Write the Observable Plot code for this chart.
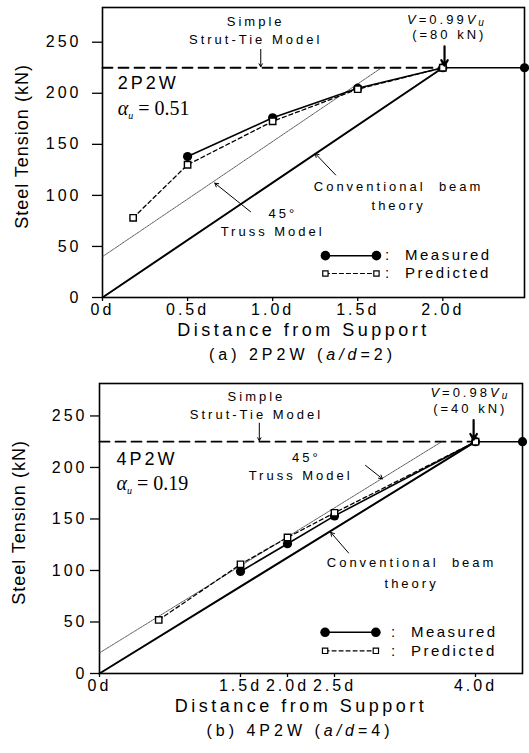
<!DOCTYPE html>
<html><head><meta charset="utf-8">
<script src="https://cdn.jsdelivr.net/npm/d3@7"></script>
<script src="https://cdn.jsdelivr.net/npm/@observablehq/plot@0.6"></script>
<style>
body{margin:0;background:#fff;}
svg{display:block;}
</style></head><body><div id="chart"></div>
<script>
// ---------- Panel (a) 2P2W ----------
const xTicksA = [0, 0.5, 1.0, 1.5, 2.0];
const xTickLabelsA = ["0d", "0.5d", "1.0d", "1.5d", "2.0d"];
const measuredXA = [0.5, 1.0, 1.5, 2.0, 2.48];
const measuredYA = [138, 176, 205, 225, 225];
const predictedXA = [0.18, 0.5, 1.0, 1.5, 2.0];
const predictedYA = [78, 130, 172.5, 204, 225];
const beamXA = [0, 2.0];
const beamYA = [0, 225];
const trussXA = [0, 1.64];
const trussYA = [40, 225];
const strutXA = [0, 2.0];
const strutYA = [225, 225];

// ---------- Panel (b) 4P2W ----------
const xTicksB = [0, 1.5, 2.0, 2.5, 4.0];
const xTickLabelsB = ["0d", "1.5d", "2.0d", "2.5d", "4.0d"];
const measuredXB = [1.5, 2.0, 2.5, 4.0, 4.5];
const measuredYB = [99, 126, 153, 225, 225];
const predictedXB = [0.63, 1.5, 2.0, 2.5, 4.0];
const predictedYB = [52, 106, 132, 156, 225];
const beamXB = [0, 4.0];
const beamYB = [0, 225];
const trussXB = [0, 3.64];
const trussYB = [20, 225];
const strutXB = [0, 4.0];
const strutYB = [225, 225];

const yTicks = [0, 50, 100, 150, 200, 250];

const pts = (xs, ys) => xs.map((x, i) => ({x, y: ys[i]}));
const FONT = "'Liberation Sans', Arial, sans-serif";
const SERIF = "'Liberation Serif', 'Times New Roman', serif";

function panel(o) {
  const measured = pts(o.mx, o.my);
  const predicted = pts(o.px, o.py);
  const labelMap = new Map(o.xt.map((t, i) => [t, o.xl[i]]));
  const a = o.ann;
  return Plot.plot({
    width: 529, height: o.height,
    marginTop: o.mt, marginBottom: o.mb, marginLeft: o.ml, marginRight: o.mr,
    style: {fontFamily: FONT, background: "white", overflow: "visible"},
    x: {domain: o.xd},
    y: {domain: o.yd},
    marks: [
      Plot.axisY({ticks: yTicks, tickSize: o.ytickSize, tickFormat: () => "", stroke: "black", strokeWidth: 1.3, label: null}),
      Plot.text(yTicks, {y: d => d, text: d => String(d), frameAnchor: "left", textAnchor: "end", dx: o.ylabDx, fontSize: 16, fill: "black"}),
      Plot.axisX({ticks: o.xt, tickFormat: d => labelMap.get(d), tickSize: 4, tickPadding: 2, fontSize: 16, label: null, strokeWidth: 1.3, fill: "black"}),
      Plot.frame({stroke: "black", strokeWidth: 1.6}),
      // model lines
      Plot.line(pts(o.sx, o.sy), {x: "x", y: "y", stroke: "black", strokeWidth: 1.8, strokeDasharray: "10,6"}),
      Plot.line(pts(o.tx, o.ty), {x: "x", y: "y", stroke: "#333", strokeWidth: 0.8, strokeDasharray: "2,1"}),
      Plot.line(pts(o.bx, o.by), {x: "x", y: "y", stroke: "black", strokeWidth: 2}),
      // measured / predicted
      Plot.line(measured, {x: "x", y: "y", stroke: "black", strokeWidth: 1.6}),
      Plot.line(predicted, {x: "x", y: "y", stroke: "black", strokeWidth: 1.3, strokeDasharray: "4,3"}),
      Plot.dot(measured, {x: "x", y: "y", r: 4.6, fill: "black", stroke: "none"}),
      Plot.dot(predicted, {x: "x", y: "y", r: 3.6, symbol: "square", fill: "white", stroke: "black", strokeWidth: 1.4}),
      // annotations
      Plot.text(["Simple"], {x: a.simpleX, y: a.simpleY1, fontSize: 13, fill: "black"}),
      Plot.text(["Strut-Tie Model"], {x: a.simpleX, y: a.simpleY2, fontSize: 13, fill: "black"}),
      Plot.arrow([0], {x1: a.strutArrowX, x2: a.strutArrowX, y1: 243, y2: 226, stroke: "black", strokeWidth: 1, headLength: 5}),
      Plot.text([o.vText], {x: a.vX1, y: 272, textAnchor: "start", fontSize: 13, fill: "black"}),
      Plot.text([o.vkN], {x: a.vX2, y: 257, textAnchor: "start", fontSize: 13, fill: "black"}),
      Plot.arrow([0], {x1: a.vArrowX, x2: a.vArrowX, y1: 246, y2: 227, stroke: "black", strokeWidth: 2.2, headLength: 7}),
      Plot.text([o.name], {x: a.nameX, y: a.nameY, textAnchor: "start", fontSize: 18, fill: "black"}),
      Plot.text([o.alpha], {x: a.nameX, y: a.alphaY, textAnchor: "start", fontSize: 20, fontFamily: SERIF, fill: "black"}),
      Plot.text(["Conventional  beam"], {x: a.convX, y: a.convY1, fontSize: 13, fill: "black"}),
      Plot.text(["theory"], {x: a.convX, y: a.convY2, fontSize: 13, fill: "black"}),
      Plot.arrow([0], {x1: a.convArrow[0], y1: a.convArrow[1], x2: a.convArrow[2], y2: a.convArrow[3], stroke: "black", strokeWidth: 1, headLength: 6}),
      Plot.text(["45°"], {x: a.degX, y: a.degY, fontSize: 13, fill: "black"}),
      Plot.text(["Truss Model"], {x: a.trussTX, y: a.trussTY, fontSize: 13, fill: "black"}),
      Plot.arrow([0], {x1: a.trussArrow[0], y1: a.trussArrow[1], x2: a.trussArrow[2], y2: a.trussArrow[3], stroke: "black", strokeWidth: 1, headLength: 6}),
      // legend
      Plot.line(pts(a.legX, [a.legY1, a.legY1]), {x: "x", y: "y", stroke: "black", strokeWidth: 1.5}),
      Plot.dot(pts(a.legX, [a.legY1, a.legY1]), {x: "x", y: "y", r: 4.8, fill: "black"}),
      Plot.line(pts(a.legX, [a.legY2, a.legY2]), {x: "x", y: "y", stroke: "black", strokeWidth: 1.2, strokeDasharray: "4,3"}),
      Plot.dot(pts(a.legX, [a.legY2, a.legY2]), {x: "x", y: "y", r: 3, symbol: "square", fill: "white", stroke: "black", strokeWidth: 1.2}),
      Plot.text([":  Measured"], {x: a.legTX, y: a.legY1, textAnchor: "start", fontSize: 15, fill: "black"}),
      Plot.text([":  Predicted"], {x: a.legTX, y: a.legY2, textAnchor: "start", fontSize: 15, fill: "black"}),
      // axis title and caption
      Plot.text(["Distance from Support"], {frameAnchor: "bottom", dx: -10, dy: 38, fontSize: 18, fill: "black"}),
      Plot.text([o.caption], {frameAnchor: "bottom", dx: -11, dy: 62, fontSize: 16, fill: "black"}),
      Plot.text(["Steel Tension (kN)"], {frameAnchor: "left", dx: -80, dy: -6, rotate: -90, textAnchor: "middle", fontSize: 18, fill: "black"})
    ]
  });
}

// letter spacing of the texts, as in the reference
const spacing = new Map([
  ["Distance from Support", "3.5px"],
  ["Steel Tension (kN)", "1px"],
  [":  Measured", "2.5px"], [":  Predicted", "2.5px"],
  ["2P2W", "3px"], ["4P2W", "3px"],
  ["(a) 2P2W (a/d=2)", "4px"], ["(b) 4P2W (a/d=4)", "4px"],
  ["αu = 0.51", "0px"], ["αu = 0.19", "0px"]
]);

function applySpacing(svg) {
  d3.select(svg).selectAll("text").each(function () {
    this.style.letterSpacing = spacing.get(this.textContent) ?? "3px";
  });
}

function rich(svg, plain, parts) {
  d3.select(svg).selectAll("text").filter(function () { return this.textContent === plain; }).each(function () {
    const t = d3.select(this);
    t.text(null);
    for (const p of parts) {
      const s = t.append("tspan").text(p.t);
      if (p.italic) s.attr("font-style", "italic");
      if (p.size) s.attr("font-size", p.size);
      if (p.shift) s.attr("baseline-shift", p.shift);
    }
  });
}

const svgA = panel({
  height: 375, mt: 7, mb: 78, ml: 102, mr: 5,
  xd: [0, 2.48], yd: [0, 284], ytickSize: 10, ylabDx: -21,
  xt: xTicksA, xl: xTickLabelsA,
  mx: measuredXA, my: measuredYA, px: predictedXA, py: predictedYA,
  bx: beamXA, by: beamYA, tx: trussXA, ty: trussYA, sx: strutXA, sy: strutYA,
  name: "2P2W", alpha: "αu = 0.51", vText: "V=0.99Vu", vkN: "(=80 kN)",
  caption: "(a) 2P2W (a/d=2)",
  ann: {simpleX: 0.9, simpleY1: 270, simpleY2: 252, strutArrowX: 0.93,
        vX1: 1.79, vX2: 1.82, vArrowX: 2.01, nameX: 0.09, nameY: 210, alphaY: 185,
        convX: 1.74, convY1: 108, convY2: 90, convArrow: [1.37, 120, 1.25, 141],
        degX: 1.06, degY: 82, trussTX: 1.0, trussTY: 64, trussArrow: [0.87, 84, 0.66, 112],
        legX: [1.31, 1.61], legY1: 41, legY2: 23.5, legTX: 1.66}
});

const svgB = panel({
  height: 378, mt: 8, mb: 80, ml: 99, mr: 7,
  xd: [0, 4.5], yd: [0, 281.5], ytickSize: 9, ylabDx: -12,
  xt: xTicksB, xl: xTickLabelsB,
  mx: measuredXB, my: measuredYB, px: predictedXB, py: predictedYB,
  bx: beamXB, by: beamYB, tx: trussXB, ty: trussYB, sx: strutXB, sy: strutYB,
  name: "4P2W", alpha: "αu = 0.19", vText: "V=0.98Vu", vkN: "(=40 kN)",
  caption: "(b) 4P2W (a/d=4)",
  ann: {simpleX: 1.67, simpleY1: 269, simpleY2: 251, strutArrowX: 1.70,
        vX1: 3.52, vX2: 3.55, vArrowX: 3.98, nameX: 0.18, nameY: 208, alphaY: 184,
        convX: 3.32, convY1: 107, convY2: 87, convArrow: [2.65, 117, 2.46, 137],
        degX: 2.2, degY: 209, trussTX: 2.14, trussTY: 192, trussArrow: [2.83, 202, 3.01, 189],
        legX: [2.40, 2.94], legY1: 40, legY2: 22, legTX: 3.10}
});

for (const [svg, v, al, cap] of [[svgA, "V=0.99Vu", "αu = 0.51", "(a) 2P2W (a/d=2)"], [svgB, "V=0.98Vu", "αu = 0.19", "(b) 4P2W (a/d=4)"]]) {
  applySpacing(svg);
  rich(svg, v, [{t: "V", italic: true}, {t: v.slice(1, 6)}, {t: "V", italic: true}, {t: "u", italic: true, size: 10, shift: "-2"}]);
  rich(svg, al, [{t: "α", italic: true}, {t: "u", italic: true, size: 10, shift: "-4"}, {t: al.slice(2)}]);
  rich(svg, cap, [{t: cap.slice(0, 10)}, {t: "a/d", italic: true}, {t: cap.slice(13)}]);
}

const root = document.getElementById("chart");
root.appendChild(svgA);
root.appendChild(svgB);
</script></body></html>
